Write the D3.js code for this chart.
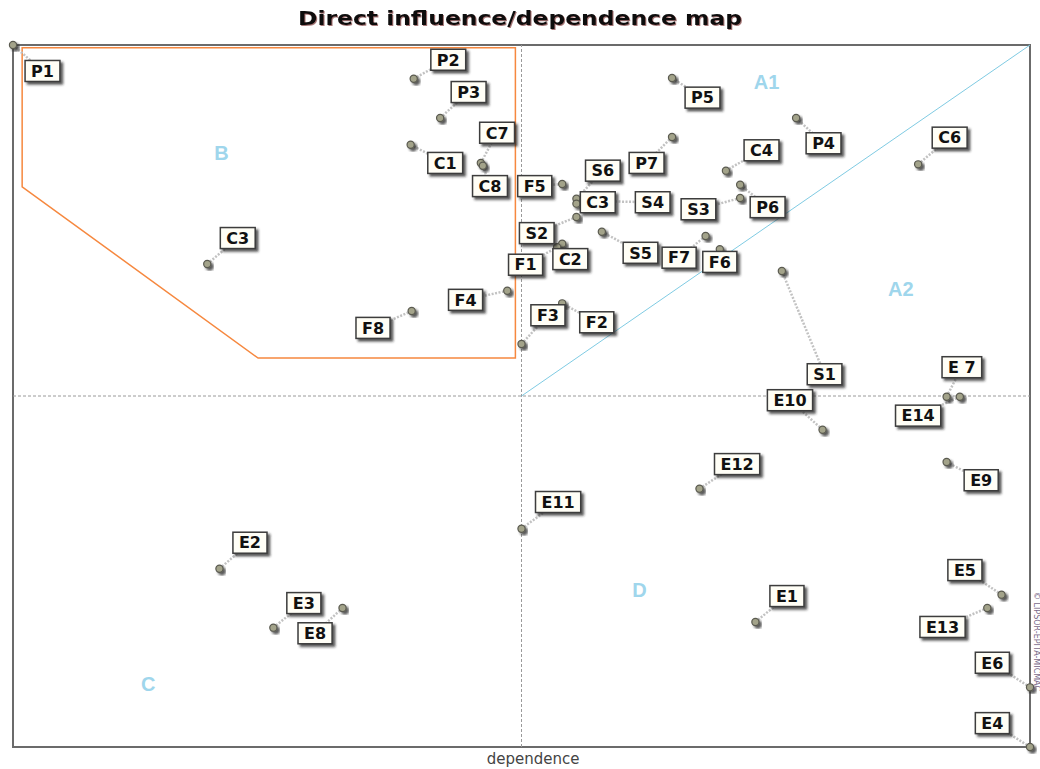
<!DOCTYPE html>
<html lang="en">

<head>
  <meta charset="UTF-8">
  <title>Direct influence/dependence map</title>
  <style>
    body {
      margin: 0;
      background: #fff;
    }
  </style>
</head>

<body>
  <svg id="chart"></svg>

  <script src="https://d3js.org/d3.v7.min.js"></script>
  <script>
    // variable names, dependence (x) and influence (y), in % of the plane
    var names = ['P1', 'P2', 'P3', 'C7', 'C8', 'C1', 'F5', 'S6', 'C3', 'S4', 'P7', 'S2', 'C2', 'F1', 'S5',
      'F7', 'F6', 'S3', 'P6', 'C4', 'P4', 'C6', 'P5', 'F4', 'F3', 'F2', 'F8', 'C3', 'S1', 'E10', 'E 7',
      'E14', 'E9', 'E12', 'E1', 'E11', 'E2', 'E3', 'E8', 'E5', 'E13', 'E6', 'E4'];
    var dependence = [0, 39.4, 42.0, 46.0, 46.2, 39.1, 54.0, 55.4, 55.4, 56.1, 64.8, 55.4, 54.0, 53.5, 57.9,
      68.1, 69.5, 71.5, 71.5, 70.1, 77.0, 89.0, 64.8, 48.6, 50.0, 54.0, 39.2, 19.1, 75.6, 79.6, 91.8,
      93.1, 91.8, 67.5, 73.0, 50.0, 20.3, 25.6, 32.4, 97.2, 95.8, 100, 100];
    var influence = [100, 95.2, 89.6, 83.2, 82.8, 85.8, 80.2, 78.1, 77.4, 77.8, 86.9, 75.5, 71.7, 71.2, 73.4,
      72.8, 70.9, 78.2, 80.1, 82.1, 89.6, 83.0, 95.3, 65.0, 57.4, 63.2, 62.1, 68.8, 67.8, 45.2, 49.9,
      49.9, 40.6, 36.8, 17.8, 31.1, 25.4, 17.0, 19.8, 21.7, 19.8, 8.5, 0];
    // where each tag box sits, same units
    var labelX = [2.9, 42.8, 44.8, 47.6, 46.9, 42.5, 51.3, 58.0, 57.5, 62.9, 62.3, 51.5, 54.8, 50.4, 61.7,
      65.5, 69.5, 67.4, 74.2, 73.6, 79.7, 92.1, 67.8, 44.5, 52.6, 57.4, 35.4, 22.1, 79.8, 76.4, 93.3,
      89.0, 95.2, 71.2, 76.1, 53.6, 23.3, 28.6, 29.7, 93.6, 91.4, 96.3, 96.3];
    var labelY = [96.3, 97.9, 93.3, 87.5, 79.9, 83.2, 79.9, 82.1, 77.6, 77.6, 83.2, 73.2, 69.5, 68.7, 70.4,
      69.7, 69.1, 76.6, 76.9, 85.0, 86.0, 86.8, 92.5, 63.7, 61.5, 60.5, 59.7, 72.5, 53.1, 49.4, 54.1,
      47.2, 38.0, 40.3, 21.5, 34.9, 29.1, 20.5, 16.2, 25.2, 17.1, 12.0, 3.4];

    // sector letters
    var sectors = ['A1', 'B', 'A2', 'C', 'D'];
    var sectorX = [74.1, 20.5, 87.3, 13.3, 61.6];
    var sectorY = [94.7, 84.6, 65.2, 9.0, 22.4];

    // outline of group B
    var zoneX = [0.9, 49.4, 49.4, 24.1, 0.9];
    var zoneY = [99.6, 99.6, 55.4, 55.4, 79.8];

    var W = 1040, H = 769;
    var svg = d3.select('#chart').attr('width', W).attr('height', H);

    var x = d3.scaleLinear().domain([0, 100]).range([13, 1030]);
    var y = d3.scaleLinear().domain([0, 100]).range([747, 45]);

    var defs = svg.append('defs');
    var f = defs.append('filter').attr('id', 'shadow')
      .attr('x', '-30%').attr('y', '-30%').attr('width', '170%').attr('height', '170%');
    f.append('feDropShadow').attr('dx', 2.5).attr('dy', 2.5).attr('stdDeviation', 1.3)
      .attr('flood-color', '#222').attr('flood-opacity', 0.75);
    var f2 = defs.append('filter').attr('id', 'tshadow');
    f2.append('feDropShadow').attr('dx', 1).attr('dy', 1).attr('stdDeviation', 0.6)
      .attr('flood-color', '#6b1a1a').attr('flood-opacity', 0.6);

    /* title */
    svg.append('text')
      .attr('x', 520).attr('y', 25)
      .attr('text-anchor', 'middle')
      .attr('font-family', 'DejaVu Sans')
      .attr('font-weight', 'bold')
      .attr('font-size', 19)
      .attr('textLength', 444)
      .attr('lengthAdjust', 'spacingAndGlyphs')
      .attr('fill', '#111')
      .attr('filter', 'url(#tshadow)')
      .text('Direct influence/dependence map');

    /* frame and mid lines */
    svg.append('rect')
      .attr('x', x(0)).attr('y', y(100))
      .attr('width', x(100) - x(0)).attr('height', y(0) - y(100))
      .attr('fill', 'none').attr('stroke', '#6b6b6b').attr('stroke-width', 2);

    svg.append('line')
      .attr('x1', x(50)).attr('x2', x(50)).attr('y1', y(0)).attr('y2', y(100))
      .attr('stroke', '#9a9a9a').attr('stroke-dasharray', '3,2');
    svg.append('line')
      .attr('x1', x(0)).attr('x2', x(100)).attr('y1', y(50)).attr('y2', y(50))
      .attr('stroke', '#9a9a9a').attr('stroke-dasharray', '3,2');

    // diagonal
    svg.append('line')
      .attr('x1', x(50)).attr('y1', y(50)).attr('x2', x(100)).attr('y2', y(100))
      .attr('stroke', '#7fcbe3').attr('stroke-width', 1);

    // group B outline
    var zone = zoneX.map(function (d, i) { return [x(d), y(zoneY[i])]; });
    svg.append('polygon')
      .attr('points', zone.map(function (p) { return p.join(','); }).join(' '))
      .attr('fill', 'none').attr('stroke', '#f6883f').attr('stroke-width', 1.5);

    svg.selectAll('text.sector')
      .data(sectors).enter()
      .append('text')
      .attr('class', 'sector')
      .attr('x', function (d, i) { return x(sectorX[i]); })
      .attr('y', function (d, i) { return y(sectorY[i]) + 7; })
      .attr('text-anchor', 'middle')
      .attr('font-family', 'Liberation Sans')
      .attr('font-weight', 'bold')
      .attr('font-size', 20)
      .attr('fill', '#9fd6ec')
      .text(function (d) { return d; });

    /* variables */
    var data = names.map(function (n, i) {
      return { name: n, dx: dependence[i], iy: influence[i], lx: labelX[i], ly: labelY[i] };
    });

    svg.selectAll('line.link')
      .data(data).enter()
      .append('line')
      .attr('class', 'link')
      .attr('x1', function (d) { return x(d.dx); })
      .attr('y1', function (d) { return y(d.iy); })
      .attr('x2', function (d) { return x(d.lx); })
      .attr('y2', function (d) { return y(d.ly); })
      .attr('stroke', '#c2c2c2').attr('stroke-width', 2.5)
      .attr('stroke-dasharray', '2,1.5');

    svg.selectAll('circle.pt')
      .data(data).enter()
      .append('circle')
      .attr('class', 'pt')
      .attr('cx', function (d) { return x(d.dx); })
      .attr('cy', function (d) { return y(d.iy); })
      .attr('r', 3.6)
      .attr('fill', '#a3a38a')
      .attr('stroke', '#5a5a50').attr('stroke-width', 1.2)
      .attr('filter', 'url(#shadow)');

    var tag = svg.selectAll('g.tag')
      .data(data).enter()
      .append('g')
      .attr('class', 'tag')
      .attr('transform', function (d) {
        return 'translate(' + x(d.lx) + ',' + y(d.ly) + ')';
      });

    var box = tag.append('rect')
      .attr('fill', '#fffef6')
      .attr('stroke', '#3c3c3c').attr('stroke-width', 1.5)
      .attr('filter', 'url(#shadow)');

    var txt = tag.append('text')
      .attr('text-anchor', 'middle')
      .attr('dy', '0.36em')
      .attr('font-family', 'DejaVu Sans')
      .attr('font-weight', 'bold')
      .attr('font-size', 16)
      .attr('fill', '#111')
      .text(function (d) { return d.name; });

    txt.each(function (d) {
      d.w = this.getComputedTextLength() + 12;
    });
    box.attr('x', function (d) { return -d.w / 2; })
      .attr('y', -10.5)
      .attr('width', function (d) { return d.w; })
      .attr('height', 21);

    /* axis caption */
    svg.append('text')
      .attr('x', 533).attr('y', 764)
      .attr('text-anchor', 'middle')
      .attr('font-family', 'DejaVu Sans')
      .attr('font-size', 15)
      .attr('fill', '#444')
      .text('dependence');

    svg.append('text')
      .attr('transform', 'translate(1034,592) rotate(90)')
      .attr('font-family', 'DejaVu Sans')
      .attr('font-size', 8)
      .attr('fill', '#7a6a8a')
      .text('© LIPSOR-EPITA-MICMAC');
  </script>
</body>

</html>
